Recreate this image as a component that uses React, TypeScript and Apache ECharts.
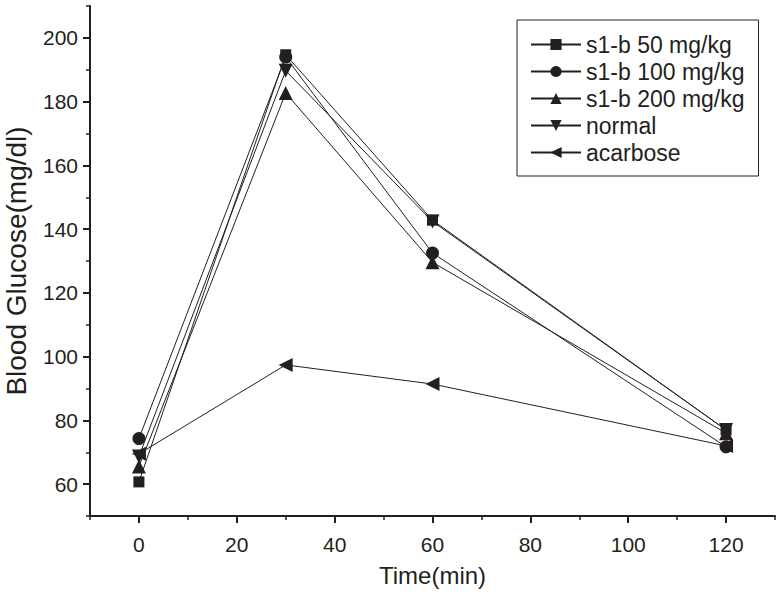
import React, { useEffect, useRef } from "react";
import * as echarts from "echarts";

const times = [0, 30, 60, 120];
const s1b50 = [60.7, 194.7, 142.8, 77];
const s1b100 = [74.3, 194, 132.5, 71.7];
const s1b200 = [65.5, 182.7, 129.6, 76];
const normal = [68.7, 189.7, 142.4, 77];
const acarbose = [69.5, 97.4, 91.4, 72];

const seriesNames = ["s1-b 50 mg/kg", "s1-b 100 mg/kg", "s1-b 200 mg/kg", "normal", "acarbose"];
const xMajor = [0, 20, 40, 60, 80, 100, 120];
const xMinor = [-10, 0, 10, 20, 30, 40, 50, 60, 70, 80, 90, 100, 110, 120, 130];
const yMajor = [60, 80, 100, 120, 140, 160, 180, 200];
const yMinor = [50, 60, 70, 80, 90, 100, 110, 120, 130, 140, 150, 160, 170, 180, 190, 200, 210];

const INK = "#231f20";
const FONT = "Liberation Sans, Arial, sans-serif";

const symbols = [
  { symbol: "rect", size: 11 },
  { symbol: "circle", size: 13 },
  { symbol: "path://M5,0 L10,9 L0,9 Z", size: 14 },
  { symbol: "path://M0,0 L10,0 L5,9 Z", size: 14 },
  { symbol: "path://M0,5 L9,0 L9,10 Z", size: 14 },
];

export default function App() {
  const ref = useRef<HTMLDivElement>(null);
  useEffect(() => {
    if (!ref.current) return;
    const chart = echarts.init(ref.current, null, { renderer: "svg" });
    const allData = [s1b50, s1b100, s1b200, normal, acarbose];
    const baseAxis = (min: number, max: number) => ({
      type: "value" as const,
      min,
      max,
      splitLine: { show: false },
    });
    chart.setOption({
      animation: false,
      backgroundColor: "#ffffff",
      textStyle: { fontFamily: FONT, color: INK },
      grid: { left: 90, right: 7, top: 6, bottom: 82, containLabel: false, outerBoundsMode: "none" },
      legend: {
        data: seriesNames,
        orient: "vertical",
        left: 517,
        top: 20,
        borderColor: INK,
        borderWidth: 1,
        padding: [13, 14, 12, 13],
        itemWidth: 50,
        itemHeight: 14,
        itemGap: 4,
        textStyle: { fontSize: 23, color: INK, fontFamily: FONT },
      },
      xAxis: [
        {
          ...baseAxis(-10, 130),
          position: "bottom",
          name: "Time(min)",
          nameLocation: "middle",
          nameGap: 47,
          nameTextStyle: { fontSize: 24, color: INK, fontFamily: FONT },
          axisLine: { show: true, onZero: false, lineStyle: { color: INK, width: 2 } },
          axisTick: { show: true, inside: false, length: 7, customValues: xMajor, lineStyle: { color: INK, width: 2 } },
          axisLabel: { show: true, customValues: xMajor, margin: 18, fontSize: 21, color: INK, fontFamily: FONT },
        },
        {
          ...baseAxis(-10, 130),
          position: "bottom",
          axisLine: { show: false, onZero: false },
          axisTick: { show: true, inside: false, length: 4, customValues: xMinor, lineStyle: { color: INK, width: 1.5 } },
          axisLabel: { show: false },
        },
      ],
      yAxis: [
        {
          ...baseAxis(50, 210),
          position: "left",
          name: "Blood Glucose(mg/dl)",
          nameLocation: "middle",
          nameGap: 60,
          nameTextStyle: { fontSize: 28, color: INK, fontFamily: FONT },
          axisLine: { show: true, onZero: false, lineStyle: { color: INK, width: 2 } },
          axisTick: { show: true, inside: false, length: 7, customValues: yMajor, lineStyle: { color: INK, width: 2 } },
          axisLabel: { show: true, customValues: yMajor, margin: 12, fontSize: 21, color: INK, fontFamily: FONT },
        },
        {
          ...baseAxis(50, 210),
          position: "left",
          axisLine: { show: false, onZero: false },
          axisTick: { show: true, inside: false, length: 4, customValues: yMinor, lineStyle: { color: INK, width: 1.5 } },
          axisLabel: { show: false },
        },
      ],
      series: seriesNames.map((name, i) => ({
        name,
        type: "line",
        xAxisIndex: 0,
        yAxisIndex: 0,
        data: times.map((t, j) => [t, allData[i][j]]),
        symbol: symbols[i].symbol,
        symbolSize: symbols[i].size,
        showAllSymbol: true,
        lineStyle: { color: INK, width: 1 },
        itemStyle: { color: INK, borderWidth: 0 },
        z: 10 - i,
      })),
    });
    return () => chart.dispose();
  }, []);
  return (
    <div
      ref={ref}
      style={{ position: "fixed", left: 0, top: 0, width: 782, height: 598, background: "#fff" }}
    />
  );
}
